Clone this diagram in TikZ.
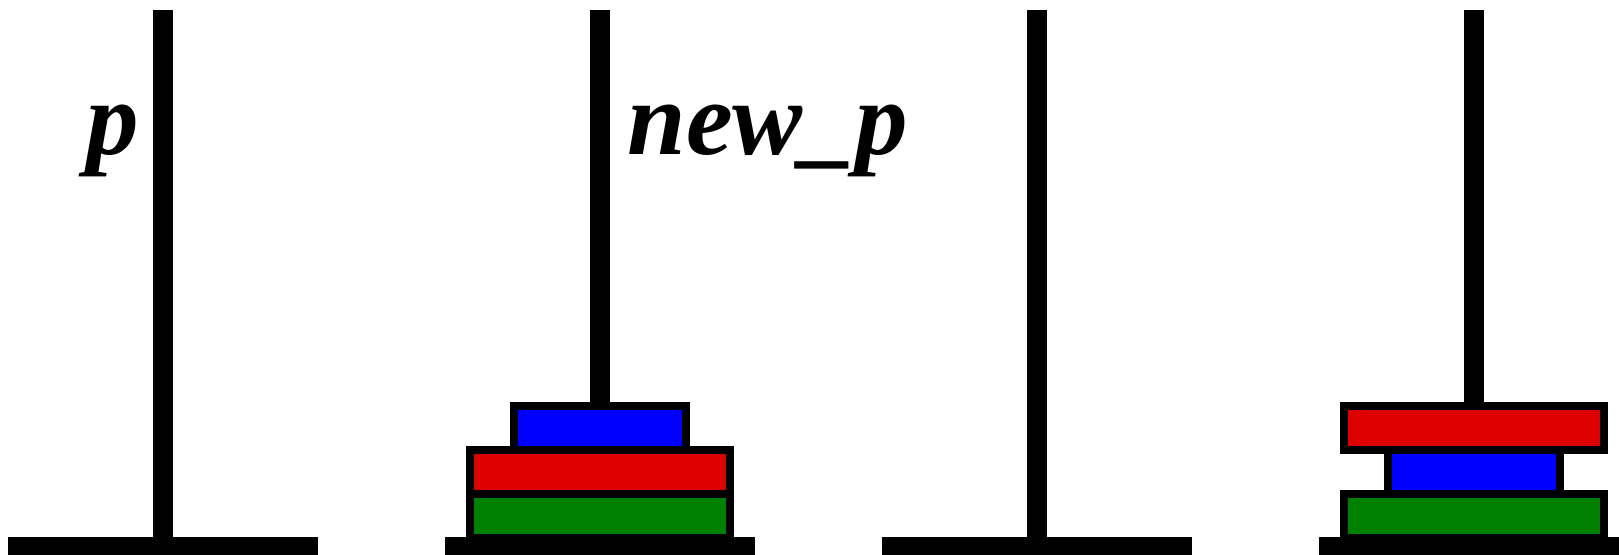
\documentclass[tikz,border=0pt]{standalone}
\usepackage{fontspec}
\setmainfont{Liberation Serif}
\definecolor{diskred}{RGB}{221,0,0}
\definecolor{diskgreen}{RGB}{0,128,0}
\definecolor{diskblue}{RGB}{0,0,255}
\tikzset{
  peg/.style={fill=black},
  disk/.style={draw=black, line width=0.08cm},
  peglabel/.style={inner sep=0pt, font=\fontsize{29.9}{36}\selectfont\bfseries\itshape},
}
\begin{document}
\begin{tikzpicture}[x=0.01cm, y=-0.01cm]
  \useasboundingbox (0,0) rectangle (1619,555);

  % pegs with their bases
  \foreach \c in {163,600,1037,1474} {
    \fill[peg] (\c-10,10) rectangle (\c+10,540);
    \fill[peg] (\c-155,537) rectangle (\c+155,555);
  }

  % names of the pegs
  \node[peglabel, anchor=base east] (plabel) at (140,155) {p};
  \node[peglabel, anchor=base west] (newplabel) at (627,155) {new\_p};

  % second peg: green, red, blue
  \draw[disk, fill=diskgreen] (470,494) rectangle (730,538);
  \draw[disk, fill=diskred] (470,450) rectangle (730,494);
  \draw[disk, fill=diskblue] (514,406) rectangle (686,450);

  % fourth peg: green, blue, red
  \draw[disk, fill=diskgreen] (1344,494) rectangle (1604,538);
  \draw[disk, fill=diskblue] (1388,450) rectangle (1560,494);
  \draw[disk, fill=diskred] (1344,406) rectangle (1604,450);
\end{tikzpicture}
\end{document}
